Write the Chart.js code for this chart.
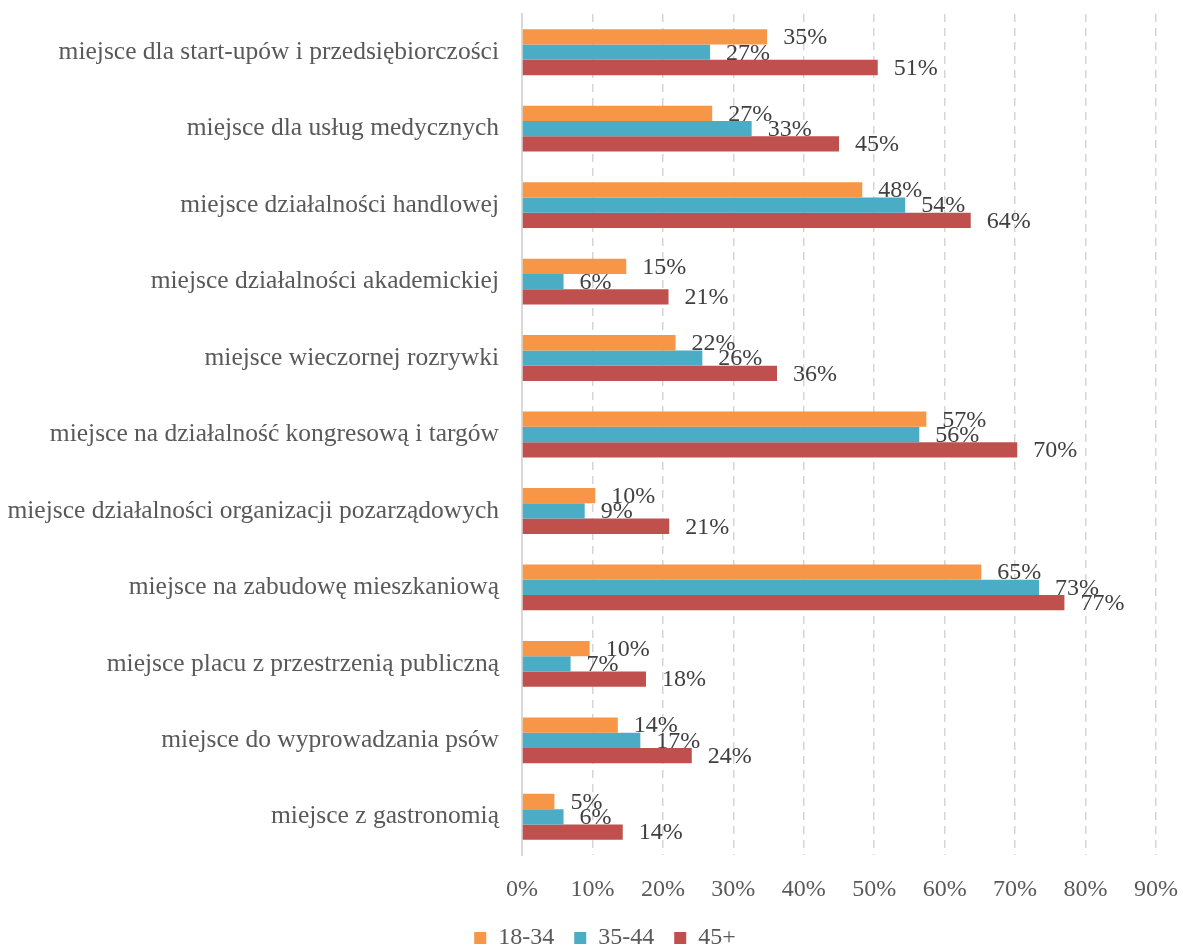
<!DOCTYPE html>
<html>
<head>
<meta charset="utf-8">
<script src="https://cdn.jsdelivr.net/npm/chart.js@4/dist/chart.umd.min.js"></script>
<style>
  html, body { margin: 0; padding: 0; background: #ffffff; }
  #wrap { width: 1183px; height: 947px; }
</style>
</head>
<body>
<div id="wrap"><canvas id="c" width="1183" height="947"></canvas></div>
<script>
const categories = [
  "miejsce dla start-upów i przedsiębiorczości",
  "miejsce dla usług medycznych",
  "miejsce działalności handlowej",
  "miejsce działalności akademickiej",
  "miejsce wieczornej rozrywki",
  "miejsce na działalność kongresową i targów",
  "miejsce działalności organizacji pozarządowych",
  "miejsce na zabudowę mieszkaniową",
  "miejsce placu z przestrzenią publiczną",
  "miejsce do wyprowadzania psów",
  "miejsce z gastronomią"
];
const seriesNames = ["18-34", "35-44", "45+"];
const age18_34 = [34.8, 27.0, 48.3, 14.8, 21.8, 57.4, 10.4, 65.2, 9.6, 13.6, 4.6];
const age35_44 = [26.7, 32.6, 54.4, 5.9, 25.6, 56.4, 8.9, 73.4, 6.9, 16.8, 5.9];
const age45plus = [50.5, 45.0, 63.7, 20.8, 36.2, 70.3, 20.9, 77.0, 17.6, 24.1, 14.3];
const xTicks = [0, 10, 20, 30, 40, 50, 60, 70, 80, 90];

const colors = ["#F79646", "#4BACC6", "#C0504D"];
const FONT = "'Liberation Serif', 'Times New Roman', serif";

const valueLabels = {
  id: 'valueLabels',
  afterDatasetsDraw(chart) {
    const ctx = chart.ctx;
    ctx.save();
    ctx.font = "24px " + FONT;
    ctx.fillStyle = "#404040";
    ctx.textAlign = "left";
    ctx.textBaseline = "middle";
    chart.data.datasets.forEach((ds, di) => {
      const meta = chart.getDatasetMeta(di);
      meta.data.forEach((bar, i) => {
        const v = ds.data[i];
        ctx.fillText(Math.round(v) + "%", bar.x + 16, bar.y + 1);
      });
    });
    ctx.restore();
  }
};

// the legend in the reference is centred a little right of the canvas centre
const legendShift = {
  id: 'legendShift',
  afterLayout(chart) {
    if (chart.legend) { chart.legend.left = 54; }
  }
};

new Chart(document.getElementById('c'), {
  type: 'bar',
  data: {
    labels: categories,
    datasets: [
      { label: seriesNames[0], data: age18_34, backgroundColor: colors[0] },
      { label: seriesNames[1], data: age35_44, backgroundColor: colors[1] },
      { label: seriesNames[2], data: age45plus, backgroundColor: colors[2] }
    ]
  },
  options: {
    indexAxis: 'y',
    responsive: false,
    animation: false,
    devicePixelRatio: 1,
    categoryPercentage: 0.6,
    barPercentage: 1.0,
    layout: { padding: { left: 0, right: 27, top: 14, bottom: -13 } },
    scales: {
      x: {
        min: 0,
        max: 90,
        afterBuildTicks(scale) { scale.ticks = xTicks.map(v => ({ value: v })); },
        afterFit(scale) { scale.height = 51; scale.paddingLeft = 0; scale.paddingRight = 0; },
        ticks: {
          padding: 20,
          color: "#595959",
          font: { family: FONT, size: 24 },
          callback: (v) => v + "%"
        },
        grid: {
          drawTicks: false,
          color: (c) => c.index === 0 ? 'rgba(0,0,0,0)' : '#D5D5D5',
          lineWidth: 1.5
        },
        border: { display: false, dash: [8, 6] }
      },
      y: {
        afterFit(scale) { scale.width = 522; scale.paddingTop = 0; scale.paddingBottom = 0; },
        ticks: {
          padding: 23,
          color: "#595959",
          font: { family: FONT, size: 25.5 }
        },
        grid: { display: false, drawTicks: false },
        border: { display: true, color: '#D9D9D9', width: 2 }
      }
    },
    plugins: {
      legend: {
        position: 'bottom',
        labels: {
          boxWidth: 12,
          boxHeight: 12,
          padding: 20,
          color: "#595959",
          font: { family: FONT, size: 24 }
        }
      },
      tooltip: { enabled: false }
    }
  },
  plugins: [valueLabels, legendShift]
});
</script>
</body>
</html>
